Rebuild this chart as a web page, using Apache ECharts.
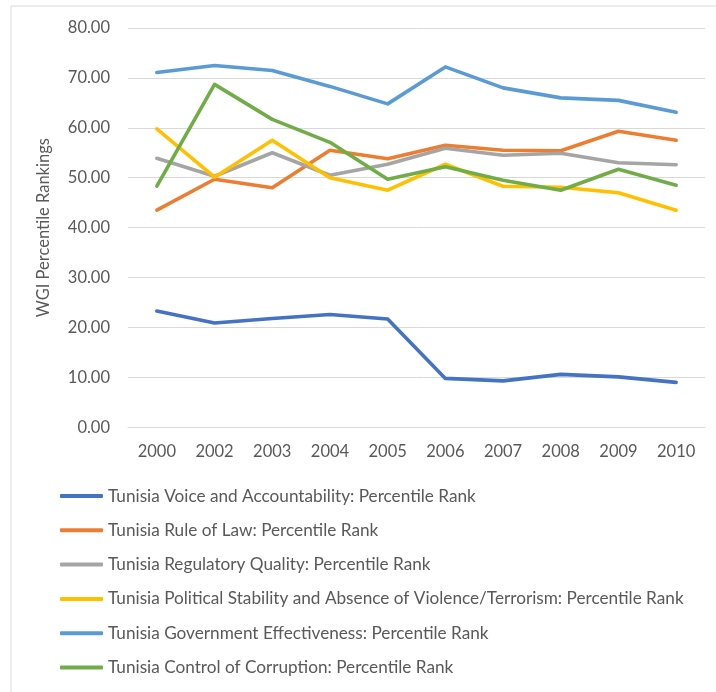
<!DOCTYPE html>
<html>
<head>
<meta charset="utf-8">
<script src="https://cdn.jsdelivr.net/npm/echarts@6/dist/echarts.min.js"></script>
<style>
  html, body { margin: 0; padding: 0; background: #fff; }
  #chart { width: 716px; height: 692px; }
</style>
</head>
<body>
<div id="chart"></div>
<script>
// Years on the category axis
const years = ['2000', '2002', '2003', '2004', '2005', '2006', '2007', '2008', '2009', '2010'];

// Worldwide Governance Indicators for Tunisia, percentile ranks
const voiceAccountability = [23.3, 20.9, 21.8, 22.6, 21.7, 9.8, 9.3, 10.6, 10.1, 9.0];
const ruleOfLaw           = [43.5, 49.7, 48.0, 55.5, 53.8, 56.5, 55.5, 55.4, 59.3, 57.5];
const regulatoryQuality   = [53.9, 50.3, 55.0, 50.5, 52.7, 55.9, 54.5, 54.9, 53.0, 52.6];
const politicalStability  = [59.8, 50.1, 57.5, 50.0, 47.5, 52.7, 48.3, 48.1, 47.0, 43.5];
const govEffectiveness    = [71.1, 72.5, 71.5, 68.3, 64.8, 72.2, 68.0, 66.0, 65.5, 63.1];
const controlCorruption   = [48.3, 68.7, 61.7, 57.1, 49.7, 52.2, 49.5, 47.5, 51.7, 48.5];

// Value-axis tick range
const yMin = 0, yMax = 80, yStep = 10;

const seriesDefs = [
  { name: 'Tunisia Voice and Accountability: Percentile Rank', data: voiceAccountability, color: '#4472C4' },
  { name: 'Tunisia Rule of Law: Percentile Rank', data: ruleOfLaw, color: '#ED7D31' },
  { name: 'Tunisia Regulatory Quality: Percentile Rank', data: regulatoryQuality, color: '#A5A5A5' },
  { name: 'Tunisia Political Stability and Absence of Violence/Terrorism: Percentile Rank', data: politicalStability, color: '#FFC000' },
  { name: 'Tunisia Government Effectiveness: Percentile Rank', data: govEffectiveness, color: '#5B9BD5' },
  { name: 'Tunisia Control of Corruption: Percentile Rank', data: controlCorruption, color: '#70AD47' }
];

const FONT = 'Lato, "Open Sans", sans-serif';
const chart = echarts.init(document.getElementById('chart'), null, { renderer: 'canvas' });

chart.setOption({
  backgroundColor: '#ffffff',
  animation: false,
  color: seriesDefs.map(s => s.color),
  textStyle: { fontFamily: FONT },
  graphic: [{
    type: 'rect',
    shape: { x: 11, y: 6, width: 800, height: 800 },
    style: { fill: 'none', stroke: '#d9d9d9', lineWidth: 1 },
    silent: true
  }],
  grid: { left: 128, right: 11, top: 28, bottom: 264.7, containLabel: false },
  xAxis: {
    type: 'category',
    data: years,
    boundaryGap: true,
    axisLine: { show: true, lineStyle: { color: '#d9d9d9', width: 1 } },
    axisTick: { show: false },
    axisLabel: { color: '#595959', fontSize: 16.5, margin: 16, fontFamily: FONT }
  },
  yAxis: {
    type: 'value',
    min: yMin, max: yMax, interval: yStep,
    name: 'WGI Percentile Rankings',
    nameLocation: 'middle',
    nameGap: 76,
    nameTextStyle: { color: '#595959', fontSize: 16.5, fontFamily: FONT },
    axisLine: { show: false },
    axisTick: { show: false },
    axisLabel: { color: '#595959', fontSize: 16.5, margin: 18, fontFamily: FONT,
                 formatter: v => v.toFixed(2) },
    splitLine: { lineStyle: { color: '#d9d9d9', width: 1 } }
  },
  legend: {
    orient: 'vertical',
    left: 60, top: 486,
    padding: 0,
    itemWidth: 43, itemHeight: 4,
    itemGap: 14.3,
    icon: 'roundRect',
    textStyle: { color: '#595959', fontSize: 17.2, lineHeight: 20, fontFamily: FONT },
    data: seriesDefs.map(s => s.name)
  },
  series: seriesDefs.map(s => ({
    name: s.name,
    type: 'line',
    data: s.data,
    showSymbol: false,
    symbol: 'none',
    lineStyle: { width: 3.6, color: s.color, cap: 'round', join: 'round' },
    itemStyle: { color: s.color }
  }))
});
</script>
</body>
</html>
